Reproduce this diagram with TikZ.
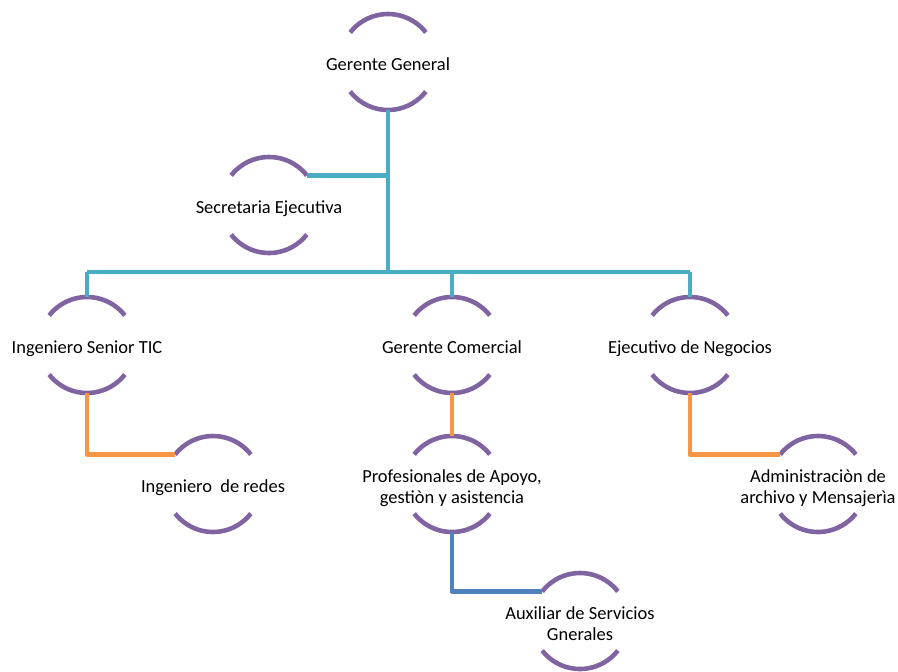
\documentclass[tikz,border=0pt]{standalone}
\usepackage{fontspec}
\setmainfont{Carlito}
\usepackage{tikz}

\definecolor{morado}{HTML}{8064A2}
\definecolor{turquesa}{HTML}{4BACC6}
\definecolor{naranja}{HTML}{F79646}
\definecolor{azul}{HTML}{4F81BD}

% texto centrado sin ancho, para que el circulo no crezca
\newcommand{\cargo}[1]{\raisebox{-2.6pt}[\height][\depth]{\makebox[0pt]{\begin{tabular}{@{}c@{}}#1\end{tabular}}}}

\begin{document}
\begin{tikzpicture}[
    font=\fontsize{10.5}{12}\selectfont,
    puesto/.style={circle, inner sep=0pt, outer sep=0pt, minimum size=1.92cm},
    arco/.style={morado, line width=2.6pt},
    troncal/.style={turquesa, line width=2.6pt, line join=round},
    rama/.style={naranja, line width=2.6pt, line join=round},
    ramaazul/.style={azul, line width=2.6pt, line join=round}
  ]
    \useasboundingbox (0,0) rectangle (17.96,-13.42);

    % Cargos del organigrama
    \node[puesto] (gg) at (7.76,-1.24) {\cargo{Gerente General}};
    \node[puesto] (se) at (5.38,-4.10) {\cargo{Secretaria Ejecutiva}};
    \node[puesto] (ist) at (1.74,-6.90) {\cargo{Ingeniero Senior TIC}};
    \node[puesto] (gc) at (9.04,-6.90) {\cargo{Gerente Comercial}};
    \node[puesto] (en) at (13.80,-6.90) {\cargo{Ejecutivo de Negocios}};
    \node[puesto] (ir) at (4.26,-9.68) {\cargo{Ingeniero\ \ de redes}};
    \node[puesto] (pa) at (9.04,-9.68) {\cargo{Profesionales de Apoyo,\\gestiòn y asistencia}};
    \node[puesto] (am) at (16.36,-9.68) {\cargo{Administraciòn de\\archivo y Mensajerìa}};
    \node[puesto] (as) at (11.60,-12.42) {\cargo{Auxiliar de Servicios\\Gnerales}};

    % Arcos de arriba y de abajo de cada cargo
    \foreach \n in {gg,se,ist,gc,en,ir,pa,am,as} {
      \draw[arco] (\n.38) arc (38:142:0.96cm);
      \draw[arco] (\n.-142) arc (-142:-38:0.96cm);
    }

    % Linea principal desde la gerencia
    \coordinate (barra) at (7.76,-5.44);
    \draw[troncal] (gg.south) -- (barra);
    \draw[troncal] (se.38) -- (se.38 -| gg.south);
    \draw[troncal] (barra -| ist.north) -- (barra -| en.north);
    \foreach \n in {ist,gc,en}
      \draw[troncal] (barra -| \n.north) -- (\n.north);

    % Ramas de segundo nivel
    \draw[rama] (ist.south) |- (ir.142);
    \draw[rama] (gc.south) -- (pa.north);
    \draw[rama] (en.south) |- (am.142);
    \draw[ramaazul] (pa.south) |- (as.142);

  \end{tikzpicture}
\end{document}
